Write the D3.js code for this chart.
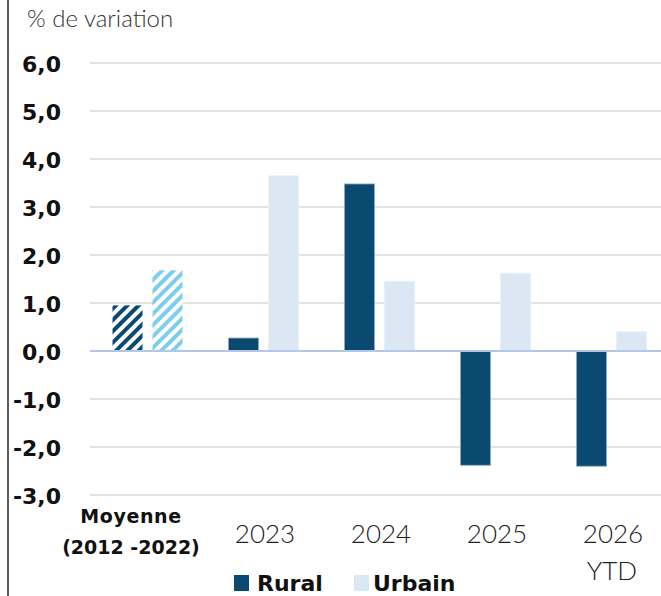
<!DOCTYPE html>
<html>
<head>
<meta charset="utf-8">
<script src="https://cdn.jsdelivr.net/npm/d3@7"></script>
<style>
  body { margin: 0; background: #fff; }
  text { font-family: Lato, "Open Sans", sans-serif; }
  .bold { font-family: "DejaVu Sans", sans-serif; font-weight: bold; }
</style>
</head>
<body>
<svg id="chart" width="661" height="596"></svg>
<script>
// data
const categories = ["Moyenne", "2023", "2024", "2025", "2026"];
const rural = [0.95, 0.27, 3.48, -2.38, -2.4];
const urbain = [1.68, 3.65, 1.45, 1.62, 0.4];
const yTicks = [6, 5, 4, 3, 2, 1, 0, -1, -2, -3];
const series = ["Rural", "Urbain"];

const svg = d3.select("#chart");

// scales
let x = d3.scaleBand().domain(categories).range([90, 670]).padding(0);
let y = d3.scaleLinear().domain([-3, 6]).range([495, 63]);

// hatch patterns for the average
const defs = svg.append("defs");
function hatch(id, color) {
  let p = defs.append("pattern")
    .attr("id", id)
    .attr("patternUnits", "userSpaceOnUse")
    .attr("width", 8).attr("height", 8)
    .attr("patternTransform", "rotate(45)");
  p.append("rect").attr("width", 8).attr("height", 8).attr("fill", "#fff");
  p.append("rect").attr("width", 4).attr("height", 8).attr("fill", color);
}
hatch("hatchRural", "#0b4a70");
hatch("hatchUrbain", "#7dcdef");

// left border
svg.append("line")
  .attr("x1", 8).attr("x2", 8).attr("y1", 0).attr("y2", 596)
  .attr("stroke", "#222").attr("stroke-width", 1.5);

// title
svg.append("text")
  .attr("x", 27).attr("y", 27)
  .attr("font-size", 24).attr("fill", "#333").attr("font-weight", 300)
  .text("% de variation");

// gridlines
svg.selectAll(".grid")
  .data(yTicks.filter(d => d !== 0))
  .enter()
  .append("line")
  .attr("x1", 90).attr("x2", 661)
  .attr("y1", d => y(d)).attr("y2", d => y(d))
  .attr("stroke", "#dadada").attr("stroke-width", 1.5);

// y tick labels
svg.selectAll(".ytick")
  .data(yTicks)
  .enter()
  .append("text")
  .attr("class", "bold")
  .attr("x", 61)
  .attr("y", d => y(d) + 9)
  .attr("text-anchor", "end")
  .attr("font-size", 22).attr("fill", "#111")
  .text(d => d3.format(".1f")(d).replace(".", ",").replace("−", "-"));

// bars
const barW = 30, gap = 9;
function drawBars(values, cls, color, pattern, offset, stroke) {
  svg.selectAll("." + cls)
    .data(values)
    .enter()
    .append("rect")
    .attr("class", cls)
    .attr("x", (d, i) => x(categories[i]) + x.bandwidth() / 2 + offset)
    .attr("width", barW)
    .attr("y", d => y(Math.max(0, d)))
    .attr("height", d => Math.abs(y(d) - y(0)))
    .attr("fill", (d, i) => i === 0 ? "url(#" + pattern + ")" : color)
    .attr("stroke", (d, i) => i === 0 ? "none" : stroke)
    .attr("stroke-width", 0.8);
}
drawBars(rural, "rural", "#0b4a70", "hatchRural", -barW - gap / 2 - 1, "#8fa9bf");
drawBars(urbain, "urbain", "#dbe8f4", "hatchUrbain", gap / 2, "#e8f0f8");

// zero line
svg.append("line")
  .attr("x1", 90).attr("x2", 661)
  .attr("y1", y(0)).attr("y2", y(0))
  .attr("stroke", "#b4c7e7").attr("stroke-width", 2);

// category labels
svg.append("text")
  .attr("class", "bold")
  .attr("x", 131).attr("y", 523).attr("text-anchor", "middle")
  .attr("font-size", 19).attr("letter-spacing", 0.6).attr("fill", "#111")
  .text("Moyenne");
svg.append("text")
  .attr("class", "bold")
  .attr("x", 131).attr("y", 554).attr("text-anchor", "middle")
  .attr("font-size", 19).attr("fill", "#111")
  .text("(2012 -2022)");

svg.selectAll(".xlab")
  .data(categories.slice(1))
  .enter()
  .append("text")
  .attr("x", d => x(d) + x.bandwidth() / 2 + 1)
  .attr("y", 543)
  .attr("text-anchor", "middle")
  .attr("font-size", 26).attr("font-weight", 300).attr("fill", "#222")
  .text(d => d);
svg.append("text")
  .attr("x", x("2026") + x.bandwidth() / 2).attr("y", 580)
  .attr("text-anchor", "middle")
  .attr("font-size", 26).attr("font-weight", 300).attr("fill", "#222")
  .text("YTD");

// legend
let legend = svg.selectAll(".legend")
  .data(series)
  .enter()
  .append("g")
  .attr("transform", (d, i) => "translate(" + (234 + i * 120) + ",575)");
legend.append("rect")
  .attr("width", 15).attr("height", 16)
  .attr("fill", (d, i) => i === 0 ? "#0b4a70" : "#dbe8f4");
legend.append("text")
  .attr("class", "bold")
  .attr("x", (d, i) => i === 0 ? 23 : 19).attr("y", 16)
  .attr("font-size", 22).attr("fill", "#111")
  .text(d => d);
</script>
</body>
</html>
